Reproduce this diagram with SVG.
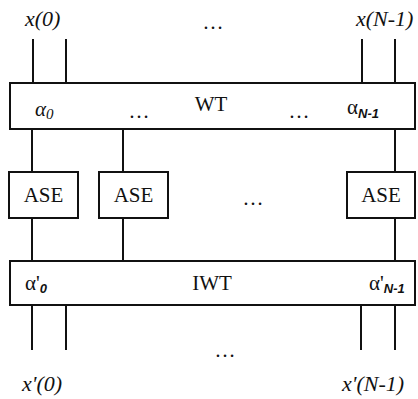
<svg xmlns="http://www.w3.org/2000/svg" width="418" height="399" viewBox="0 0 418 399">
  <style>
    .box { fill: #ffffff; stroke: #111111; stroke-width: 2; }
    .wire { stroke: #111111; stroke-width: 2; fill: none; }
    .lbl { font-family: "Liberation Serif", "Times New Roman", serif; font-size: 21px; fill: #111111; }
    .io { font-size: 22px; font-style: italic; }
    .it { font-style: italic; }
    .sub { font-family: "Liberation Sans", Arial, sans-serif; font-style: italic; font-weight: bold; font-size: 13px; }
    .subi { font-style: italic; font-size: 15px; }
  </style>
  <rect width="418" height="399" fill="#ffffff"/>

  <!-- connectors -->
  <g id="connectors" class="wire">
    <!-- inputs into WT -->
    <line x1="33" y1="39" x2="33" y2="83"/>
    <line x1="66" y1="39" x2="66" y2="83"/>
    <line x1="362" y1="39" x2="362" y2="83"/>
    <line x1="395" y1="39" x2="395" y2="83"/>
    <!-- WT to ASE -->
    <line x1="32" y1="129" x2="32" y2="172"/>
    <line x1="123" y1="129" x2="123" y2="172"/>
    <line x1="395" y1="129" x2="395" y2="172"/>
    <!-- ASE to IWT -->
    <line x1="32" y1="218" x2="32" y2="261"/>
    <line x1="123" y1="218" x2="123" y2="261"/>
    <line x1="395" y1="218" x2="395" y2="261"/>
    <!-- IWT outputs -->
    <line x1="32" y1="305" x2="32" y2="350"/>
    <line x1="66" y1="305" x2="66" y2="350"/>
    <line x1="361" y1="305" x2="361" y2="350"/>
    <line x1="395" y1="305" x2="395" y2="350"/>
  </g>

  <!-- input labels -->
  <g id="inputs" class="lbl">
    <text class="io" x="25" y="26">x(0)</text>
    <text x="213" y="29" text-anchor="middle">…</text>
    <text class="io" x="356" y="26">x(N-1)</text>
  </g>

  <!-- forward wavelet transform -->
  <g id="wt">
    <rect class="box" x="10" y="83" width="405" height="46"/>
    <text class="lbl" x="35" y="116"><tspan class="it">α</tspan><tspan class="subi" dy="3">0</tspan></text>
    <text class="lbl" x="139" y="118" text-anchor="middle">…</text>
    <text class="lbl" x="211" y="111" text-anchor="middle">WT</text>
    <text class="lbl" x="299" y="118" text-anchor="middle">…</text>
    <text class="lbl" x="347" y="114">α<tspan class="sub" dy="4">N-1</tspan></text>
  </g>

  <!-- adaptive subband estimators -->
  <g id="ase0">
    <rect class="box" x="9" y="172" width="69" height="46"/>
    <text class="lbl" x="43.5" y="202" text-anchor="middle" font-size="22">ASE</text>
  </g>
  <g id="ase1">
    <rect class="box" x="99" y="172" width="69" height="46"/>
    <text class="lbl" x="133.5" y="202" text-anchor="middle" font-size="22">ASE</text>
  </g>
  <g id="ase-gap">
    <text class="lbl" x="253" y="205" text-anchor="middle">…</text>
  </g>
  <g id="aseN">
    <rect class="box" x="347" y="172" width="68" height="46"/>
    <text class="lbl" x="381" y="202" text-anchor="middle" font-size="22">ASE</text>
  </g>

  <!-- inverse wavelet transform -->
  <g id="iwt">
    <rect class="box" x="10" y="261" width="405" height="44"/>
    <text class="lbl" x="25" y="290">α'<tspan class="sub" dy="3">0</tspan></text>
    <text class="lbl" x="212" y="290" text-anchor="middle">IWT</text>
    <text class="lbl" x="369" y="290">α'<tspan class="sub" dy="3">N-1</tspan></text>
  </g>

  <!-- output labels -->
  <g id="outputs" class="lbl">
    <text x="225" y="357" text-anchor="middle">…</text>
    <text class="io" x="22" y="391">x'(0)</text>
    <text class="io" x="342" y="391">x'(N-1)</text>
  </g>
</svg>
